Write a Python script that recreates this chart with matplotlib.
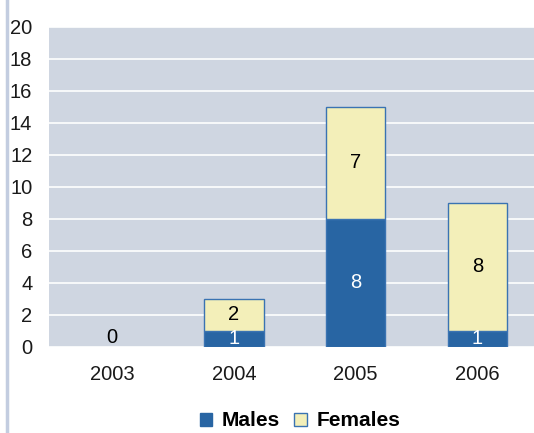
import numpy as np
import matplotlib.pyplot as plt
from matplotlib.patches import Patch

plt.rcParams['font.family'] = ['Liberation Sans', 'DejaVu Sans']

years = ['2003', '2004', '2005', '2006']
males = [0, 1, 8, 1]
females = [0, 2, 7, 8]

male_col = '#2865a3'
female_col = '#f3efb9'
edge_col = '#3a73b2'
bg_col = '#cfd6e1'
fs = 14.5

fig = plt.figure(figsize=(5.34, 4.33), dpi=100)
ax = fig.add_axes([49/534, 1 - 347/433, 485/534, 320/433])
ax.set_facecolor(bg_col)

x = np.arange(len(years))
w = 0.485
lw_m = [1 if v > 0 else 0 for v in males]
lw_f = [1 if v > 0 else 0 for v in females]
ax.bar(x, males, w, color=male_col, edgecolor=edge_col, linewidth=lw_m, zorder=3)
ax.bar(x, females, w, bottom=males, color=female_col, edgecolor=edge_col,
       linewidth=lw_f, zorder=3)

for i in range(len(years)):
    m, f = males[i], females[i]
    if m + f == 0:
        ax.text(x[i], 0.0, '0', ha='center', va='bottom', fontsize=fs, zorder=4)
        continue
    ax.text(x[i], m / 2, str(m), ha='center', va='center', color='white',
            fontsize=fs, zorder=4)
    ax.text(x[i], m + f / 2, str(f), ha='center', va='center', color='black',
            fontsize=fs, zorder=4)

ax.set_ylim(0, 20)
ax.set_yticks(range(0, 21, 2))
ax.set_xlim(-0.52, 3.465)
ax.set_xticks(x)
ax.set_xticklabels(years)
ax.yaxis.grid(True, color='white', linewidth=1.2, zorder=1)
ax.set_axisbelow(True)
for s in ax.spines.values():
    s.set_visible(False)
ax.tick_params(length=0, labelsize=fs, colors='#1a1a1a')
ax.tick_params(axis='y', pad=12)
ax.tick_params(axis='x', pad=13)

# light vertical rule on the left
fig.add_artist(plt.Line2D([7/534, 7/534], [0, 1], color='#c3cde0', linewidth=2.5))

handles = [Patch(facecolor=male_col, edgecolor=male_col, label='Males'),
           Patch(facecolor=female_col, edgecolor=edge_col, label='Females')]
fig.legend(handles=handles, loc='center', bbox_to_anchor=(300/534, 1 - 421/433),
           ncol=2, frameon=False, prop={'weight': 'bold', 'size': 15},
           handlelength=0.6, handleheight=0.6, handletextpad=0.45, columnspacing=0.7)

fig.savefig('out.png', dpi=100)
